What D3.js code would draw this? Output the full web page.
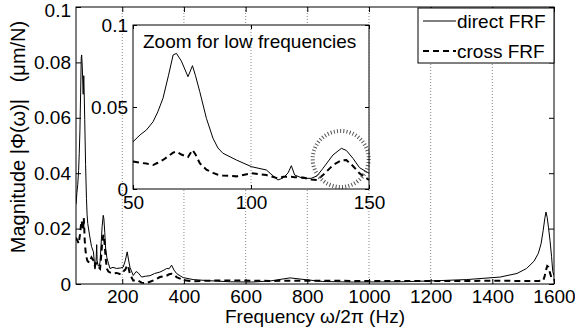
<!DOCTYPE html>
<html>
<head>
<meta charset="utf-8">
<script src="https://cdn.jsdelivr.net/npm/d3@7"></script>
<style>
body { margin: 0; background: #fff; }
svg { display: block; font-family: "Liberation Sans", Arial, sans-serif; }
.axis path { display: none; }
.axis line { stroke: #000; }
.axis text { font-size: 19px; fill: #000; font-family: "Liberation Sans", Arial, sans-serif; }
</style>
</head>
<body>
<div id="chart"></div>
<script>
// frequency (Hz) and FRF magnitudes (um/N)
var freq = [50, 53, 55.7, 58.5, 60.5, 62.7, 65, 67, 68.4, 70.5, 73.3, 75.2, 76.5, 78.3, 81.1, 83.9, 86, 88.1,
            93.8, 100.2, 106.5, 111.4, 113.6, 115.7, 117.1, 118.5, 122, 125.5, 128, 130.5, 134.7, 138.3, 140.4,
            143.2, 146, 150, 155, 160, 170, 181.7, 195, 203, 210, 216, 220, 225, 235.6, 245, 252, 262.7, 275,
            290, 305, 322, 335, 343.8, 352, 360, 368, 376, 390, 397.8, 430, 480, 550, 620, 680, 744, 800, 850,
            950, 1100, 1200, 1317, 1425, 1480, 1511, 1535, 1549, 1558, 1565, 1570, 1574, 1578, 1582, 1587,
            1592, 1596, 1600];
var direct = [0.0288, 0.033, 0.036, 0.041, 0.047, 0.0553, 0.069, 0.0817, 0.0827, 0.078, 0.0685, 0.0752, 0.069,
              0.0593, 0.0431, 0.0309, 0.025, 0.0218, 0.0177, 0.0136, 0.0116, 0.0055, 0.0067, 0.0098, 0.0142,
              0.0085, 0.0065, 0.0065, 0.008, 0.0126, 0.0207, 0.0248, 0.0235, 0.0187, 0.013, 0.0096, 0.0075,
              0.0056, 0.006, 0.0056, 0.0058, 0.0061, 0.0085, 0.0116, 0.009, 0.006, 0.0031, 0.0045, 0.004, 0.0025,
              0.0028, 0.003, 0.0038, 0.0043, 0.005, 0.0056, 0.0055, 0.0068, 0.005, 0.0038, 0.0028, 0.0023,
              0.0016, 0.0012, 0.0008, 0.0007, 0.0011, 0.0022, 0.0015, 0.0009, 0.0007, 0.0008, 0.0011, 0.0016,
              0.0025, 0.0038, 0.0056, 0.0082, 0.011, 0.0145, 0.0194, 0.0235, 0.026, 0.024, 0.0205, 0.0158,
              0.010, 0.0045, 0.003];
var cross = [0.0167, 0.016, 0.0155, 0.0146, 0.016, 0.0177, 0.020, 0.0222, 0.0228, 0.021, 0.0195, 0.0238, 0.021,
             0.0157, 0.0118, 0.0098, 0.0087, 0.0082, 0.0077, 0.0096, 0.0085, 0.0065, 0.0075, 0.0075, 0.0074,
             0.0072, 0.007, 0.0058, 0.0055, 0.0085, 0.0145, 0.0175, 0.0177, 0.014, 0.0095, 0.0055, 0.0045,
             0.0042, 0.0038, 0.004, 0.0035, 0.0045, 0.0052, 0.0068, 0.006, 0.0035, 0.0012, 0.0015, 0.0012,
             0.0005, 0.0003, 0.0008, 0.0015, 0.0025, 0.0028, 0.003, 0.0035, 0.0037, 0.0033, 0.0025, 0.0018,
             0.0014, 0.001, 0.0012, 0.0013, 0.0012, 0.0011, 0.0012, 0.0012, 0.0012, 0.0011, 0.0011, 0.0011,
             0.0011, 0.0012, 0.0011, 0.0011, 0.0011, 0.0011, 0.0012, 0.0012, 0.003, 0.005, 0.0065, 0.0061,
             0.004, 0.0022, 0.0015, 0.0015];

var xTicks = [200, 400, 600, 800, 1000, 1200, 1400, 1600];
var yTicks = [0, 0.02, 0.04, 0.06, 0.08, 0.1];
var xTicksZoom = [50, 100, 150];
var yTicksZoom = [0, 0.05, 0.1];
var seriesNames = ["direct FRF", "cross FRF"];

var data = freq.map(function(f, i) { return {f: f, d: direct[i], c: cross[i]}; });

w = 575;
h = 333;

var svg = d3.select("#chart").append("svg")
    .attr("width", w)
    .attr("height", h);

///////// MAIN AXES /////////
var xscale = d3.scaleLinear().domain([50, 1600]).range([76, 554]);
var yscale = d3.scaleLinear().domain([0, 0.1]).range([284, 7]);

// dotted vertical grid
svg.selectAll("line.grid")
    .data(xTicks.filter(function(d) { return d < 1600; }))
    .enter().append("line")
    .attr("class", "grid")
    .attr("x1", function(d) { return xscale(d); })
    .attr("x2", function(d) { return xscale(d); })
    .attr("y1", yscale(0))
    .attr("y2", yscale(0.1))
    .style("stroke", "#888")
    .style("stroke-dasharray", "1,2");

svg.append("defs").append("clipPath").attr("id", "clipMain")
    .append("rect")
    .attr("x", 76).attr("y", 7).attr("width", 478).attr("height", 277);

var lineD = d3.line().x(function(d) { return xscale(d.f); }).y(function(d) { return yscale(d.d); });
var lineC = d3.line().x(function(d) { return xscale(d.f); }).y(function(d) { return yscale(d.c); });

var gm = svg.append("g").attr("clip-path", "url(#clipMain)");
gm.append("path").datum(data).attr("d", lineD)
    .style("fill", "none").style("stroke", "#000").style("stroke-width", 1);
gm.append("path").datum(data).attr("d", lineC)
    .style("fill", "none").style("stroke", "#000").style("stroke-width", 2)
    .style("stroke-dasharray", "6,4");

var fmt = function(d) { return String(d); };

svg.append("g").attr("class", "axis")
    .attr("transform", "translate(0," + yscale(0) + ")")
    .call(d3.axisBottom(xscale).tickValues(xTicks).tickSize(-5).tickPadding(6).tickFormat(fmt));
svg.append("g").attr("class", "axis")
    .attr("transform", "translate(0," + yscale(0.1) + ")")
    .call(d3.axisTop(xscale).tickValues(xTicks).tickSize(-5).tickFormat(""));
var yax = svg.append("g").attr("class", "axis")
    .attr("transform", "translate(" + xscale(50) + ",0)")
    .call(d3.axisLeft(yscale).tickValues(yTicks).tickSize(-5).tickPadding(5).tickFormat(fmt));
// top label sits a little lower, as in the original
yax.selectAll(".tick text").filter(function(d) { return d === 0.1; }).attr("dy", "0.5em");
svg.append("g").attr("class", "axis")
    .attr("transform", "translate(" + xscale(1600) + ",0)")
    .call(d3.axisRight(yscale).tickValues(yTicks).tickSize(-5).tickFormat(""));

svg.append("rect")
    .attr("x", xscale(50)).attr("y", yscale(0.1))
    .attr("width", xscale(1600) - xscale(50)).attr("height", yscale(0) - yscale(0.1))
    .style("fill", "none").style("stroke", "#000").style("stroke-width", 1);

svg.append("text")
    .attr("x", (xscale(50) + xscale(1600)) / 2)
    .attr("y", 323)
    .attr("text-anchor", "middle")
    .style("font-size", "19px")
    .text("Frequency \u03c9/2\u03c0 (Hz)");

svg.append("text")
    .attr("transform", "rotate(-90)")
    .attr("x", -137)
    .attr("y", 25)
    .attr("text-anchor", "middle")
    .style("font-size", "20px")
    .style("white-space", "pre")
    .text("Magnitude |\u03a6(\u03c9)|   (\u03bcm/N)");

///////// INSET /////////
var xi = d3.scaleLinear().domain([50, 150]).range([133, 369]);
var yi = d3.scaleLinear().domain([0, 0.1]).range([189, 25]);
var zoomData = data.filter(function(d) { return d.f <= 150; });

svg.append("rect")
    .attr("x", xi(50)).attr("y", yi(0.1))
    .attr("width", xi(150) - xi(50)).attr("height", yi(0) - yi(0.1))
    .style("fill", "#fff");

svg.append("line")
    .attr("x1", xi(100)).attr("x2", xi(100))
    .attr("y1", yi(0)).attr("y2", yi(0.1))
    .style("stroke", "#888").style("stroke-dasharray", "1,2");

var lineDi = d3.line().x(function(d) { return xi(d.f); }).y(function(d) { return yi(d.d); });
var lineCi = d3.line().x(function(d) { return xi(d.f); }).y(function(d) { return yi(d.c); });

svg.append("path").datum(zoomData).attr("d", lineDi)
    .style("fill", "none").style("stroke", "#000").style("stroke-width", 1);
svg.append("path").datum(zoomData).attr("d", lineCi)
    .style("fill", "none").style("stroke", "#000").style("stroke-width", 2)
    .style("stroke-dasharray", "6,4");

// dotted circle around the 138 Hz mode
svg.append("circle")
    .attr("cx", xi(138)).attr("cy", yi(0.0183)).attr("r", 28)
    .style("fill", "none").style("stroke", "#555")
    .style("stroke-width", 4).style("stroke-dasharray", "1,2.2");

svg.append("g").attr("class", "axis")
    .attr("transform", "translate(0," + yi(0) + ")")
    .call(d3.axisBottom(xi).tickValues(xTicksZoom).tickSize(-4).tickPadding(7).tickFormat(fmt));
svg.append("g").attr("class", "axis")
    .attr("transform", "translate(0," + yi(0.1) + ")")
    .call(d3.axisTop(xi).tickValues(xTicksZoom).tickSize(-4).tickFormat(""));
svg.append("g").attr("class", "axis")
    .attr("transform", "translate(" + xi(50) + ",0)")
    .call(d3.axisLeft(yi).tickValues(yTicksZoom).tickSize(-4).tickPadding(5).tickFormat(fmt));
svg.append("g").attr("class", "axis")
    .attr("transform", "translate(" + xi(150) + ",0)")
    .call(d3.axisRight(yi).tickValues(yTicksZoom).tickSize(-4).tickFormat(""));

svg.append("rect")
    .attr("x", xi(50)).attr("y", yi(0.1))
    .attr("width", xi(150) - xi(50)).attr("height", yi(0) - yi(0.1))
    .style("fill", "none").style("stroke", "#000").style("stroke-width", 1);

svg.append("text")
    .attr("x", 143)
    .attr("y", 48)
    .style("font-size", "19px")
    .text("Zoom for low frequencies");

///////// LEGEND /////////
var legend = svg.append("g").attr("transform", "translate(418,8)");
legend.append("rect")
    .attr("width", 136).attr("height", 55)
    .style("fill", "#fff").style("stroke", "#000").style("stroke-width", 1);

legend.selectAll("line.key")
    .data(seriesNames)
    .enter().append("line")
    .attr("class", "key")
    .attr("x1", 5).attr("x2", 38)
    .attr("y1", function(d, i) { return 13 + i * 30; })
    .attr("y2", function(d, i) { return 13 + i * 30; })
    .style("stroke", "#000")
    .style("stroke-width", function(d, i) { return i ? 2 : 1; })
    .style("stroke-dasharray", function(d, i) { return i ? "6,4" : null; });

legend.selectAll("text")
    .data(seriesNames)
    .enter().append("text")
    .attr("x", 39)
    .attr("y", function(d, i) { return 20 + i * 30; })
    .style("font-size", "19px")
    .text(function(d) { return d; });
</script>
</body>
</html>
